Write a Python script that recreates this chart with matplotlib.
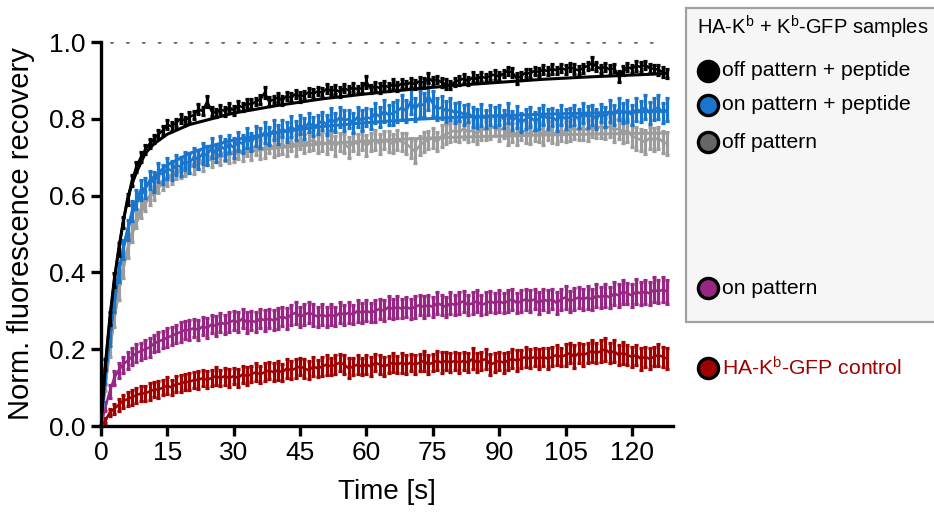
import numpy as np
import matplotlib.pyplot as plt
from matplotlib.lines import Line2D
from matplotlib.patches import Rectangle

plt.rcParams['font.family'] = ['Liberation Sans', 'DejaVu Sans']
plt.rcParams['mathtext.default'] = 'regular'

# time points (one frame per second)
time_s = np.arange(0, 129)

# mean recovery, in % of pre-bleach
off_pep = [0, 16, 28, 38, 46, 53, 59, 64, 67.5, 70,
           72, 73.5, 74.8, 76, 77, 78.5, 78, 79, 80, 79.5,
           80.5, 81, 82.5, 82, 84.5, 82, 81.5, 82.5, 82, 83,
           82.2, 83.5, 83, 84, 83.8, 84.5, 85, 86.8, 84.5, 85,
           85.5, 84.8, 86, 85.5, 86.5, 85.8, 86.2, 87, 86.5, 87.2,
           86.8, 87.8, 87.2, 87.6, 87, 88, 87.4, 88.2, 87.6, 88,
           89.6, 87.8, 88.5, 88, 88.8, 88.2, 89, 88.4, 89.2, 88.8,
           89.5, 89, 89.8, 89.4, 90.6, 89.8, 90.2, 89.5, 89, 88.8,
           89.6, 90, 90.5, 89.8, 90.8, 90.3, 91, 90.6, 91.2, 91.5,
           91, 91.8, 92.5, 92, 90.5, 91.2, 92, 91.8, 92.5, 92.2,
           92.8, 92.4, 93, 92.6, 93.2, 92.8, 93.5, 93, 92.6, 93.2,
           93.8, 94.5, 93.6, 93, 93.5, 92.8, 93.2, 91, 92.5, 93.5,
           93, 93.8, 93.5, 94, 93.2, 93, 92.8, 92.2, 91.8]
on_pep = [0, 13, 23, 32, 40, 46, 51, 56, 59, 61.5,
          62, 64, 63.5, 66, 65.5, 67, 66.5, 68, 67.5, 69,
          68.5, 70, 69.5, 71, 70.5, 72.5, 71, 73, 72, 73.5,
          72.5, 74, 73.5, 75, 74, 75.5, 75, 76.5, 75.5, 77,
          76, 77.5, 76.5, 78, 77, 78.5, 77.5, 79, 78, 78.5,
          79.5, 78.5, 80, 79, 80.5, 79.5, 80, 79, 80.5, 79.5,
          80.5, 80, 81.5, 80.5, 82, 81, 81.5, 82, 83, 82,
          84.5, 82.5, 84, 83.5, 86, 84, 82.5, 83, 82, 82.5,
          81.5, 82, 81, 81.5, 80.5, 80, 81, 80, 81, 80.5,
          81, 80, 81.5, 79.5, 80.5, 79, 80, 80.5, 79.5, 80,
          81, 80, 80.5, 79.5, 81, 80, 80.5, 81, 80, 81.5,
          80.5, 81, 80, 81.5, 80.5, 82, 81, 82.5, 81.5, 82,
          81, 82.5, 82, 83, 81.5, 82.5, 83, 81.5, 82.5]
off_pat = [0, 11, 20, 28, 35, 41, 46, 50.5, 54, 56.5,
           58.5, 60, 61.5, 63, 64, 65, 65.5, 66.5, 67, 67.5,
           68.5, 68, 69.5, 69, 70.5, 70, 71, 70.5, 71.5, 71,
           71.5, 72, 71.5, 72.5, 72, 73, 72, 72.5, 73.5, 72.5,
           73, 73.5, 72.5, 74, 73, 74.5, 73.5, 74, 74.5, 73.5,
           74, 73.5, 74.5, 73, 74, 73.5, 72.5, 74, 73.5, 74.5,
           73, 74, 74.5, 73.5, 74.5, 74, 73.5, 74.5, 74, 73.5,
           72.5, 71.5, 73, 74, 74.5, 75, 74, 75.5, 76, 76.5,
           77, 76.5, 77.5, 76.5, 77, 76, 77.5, 77, 77.5, 78,
           77, 77.5, 76, 76.5, 76, 77, 76.5, 76, 77, 76.5,
           76, 77, 76.5, 76, 77, 76.5, 77, 77.5, 77, 77.5,
           77, 78, 77.5, 78, 77.5, 78, 77, 77.5, 76.5, 77,
           75.5, 75, 74.5, 74, 75, 74.5, 75, 74, 73.5]
on_pat = [0, 5, 9, 12.5, 14.5, 16, 17, 18, 19, 19.5,
          20, 20.5, 21.5, 22, 22.5, 23, 23.5, 24, 24.5, 25,
          25, 25.5, 25, 26, 25.5, 26.5, 26, 27, 26.5, 27,
          27.5, 27, 28, 27, 27.5, 27, 28, 27.5, 28, 27.5,
          28, 28.5, 28, 29, 29.5, 28.5, 29, 29.5, 29, 28.5,
          29, 28.5, 29, 28.5, 29.5, 29, 29.5, 29, 30, 29.5,
          30, 29.5, 30, 30.5, 30, 31, 30.5, 31, 30.5, 31,
          30.5, 31, 31.5, 31, 31.5, 31, 32, 31.5, 31, 32,
          31.5, 32, 32.5, 31.5, 32, 32.5, 31.5, 32, 32.5, 32,
          32.5, 32, 32.5, 33, 32, 32.5, 33, 32.5, 33, 32,
          33, 32.5, 33, 32, 33, 33.5, 32.5, 33, 33.5, 33,
          33.5, 33, 34, 33.5, 34, 33.5, 34.5, 34, 35, 34.5,
          34, 35, 34.5, 35, 34.5, 35.5, 35, 35.5, 35]
control = [0, 1.5, 3.5, 4.5, 5.5, 6.5, 7, 7.5, 8, 8.5,
           8.5, 9, 9.5, 9.5, 10, 10.5, 10, 11, 11, 11.5,
           11.5, 12, 12, 12.5, 12, 12.5, 13, 12.5, 13, 12.5,
           13, 12.5, 13.5, 13, 13.5, 14, 13.5, 14, 14.5, 14,
           14.5, 14, 15, 14.5, 15, 15.5, 15, 14.5, 15.5, 15,
           15.5, 16, 15.5, 16, 16.5, 16, 15, 15.5, 16, 15.5,
           16, 15.5, 16.5, 16, 15.5, 16, 16.5, 16, 16.5, 16,
           16.5, 16, 16.5, 17, 16, 16.5, 17, 16.5, 17, 16.5,
           17, 16.5, 17, 16.5, 17.5, 16.5, 17, 17.5, 16, 16.5,
           17, 16.5, 17, 17.5, 17, 17.5, 18, 17.5, 18, 17.5,
           18, 17.5, 18, 18.5, 18, 18.5, 19, 18, 19, 18.5,
           19, 19.5, 19, 19.5, 20, 19, 19.5, 18.5, 19, 18.5,
           18, 18.5, 17.5, 18, 17.5, 18, 18.5, 18, 17.5]

# SEM, in %
off_pep_err = [0, 1.5, 1.8, 1.8, 1.6, 1.5, 1.4, 1.4, 1.3, 1.3,
               1.2, 1.2, 1.1, 1.2, 1.1, 1.2, 1.1, 1.0, 1.2, 1.1,
               1.2, 1.0, 1.3, 1.1, 1.5, 1.2, 1.0, 1.1, 1.2, 1.0,
               1.1, 1.2, 1.0, 1.1, 1.3, 1.0, 1.2, 1.5, 1.1, 1.0,
               1.2, 1.1, 1.0, 1.2, 1.1, 1.3, 1.0, 1.1, 1.2, 1.0,
               1.1, 1.2, 1.0, 1.1, 1.3, 1.0, 1.2, 1.1, 1.0, 1.2,
               1.6, 1.1, 1.0, 1.2, 1.1, 1.0, 1.3, 1.1, 1.2, 1.0,
               1.1, 1.2, 1.0, 1.3, 1.4, 1.1, 1.0, 1.2, 1.3, 1.1,
               1.0, 1.2, 1.1, 1.0, 1.3, 1.1, 1.2, 1.0, 1.1, 1.3,
               1.2, 1.0, 1.1, 1.2, 1.4, 1.1, 1.0, 1.2, 1.1, 1.0,
               1.2, 1.1, 1.3, 1.0, 1.1, 1.2, 1.0, 1.3, 1.1, 1.2,
               1.0, 1.5, 1.2, 1.1, 1.0, 1.3, 1.1, 1.5, 1.2, 1.0,
               1.1, 1.3, 1.2, 1.0, 1.2, 1.1, 1.3, 1.2, 1.1]
on_pep_err = [0, 2.0, 2.2, 2.4, 2.5, 2.5, 2.6, 2.5, 2.4, 2.6,
              2.5, 2.3, 2.6, 2.4, 2.5, 2.7, 2.4, 2.6, 2.5, 2.3,
              2.6, 2.4, 2.5, 2.8, 2.4, 2.6, 2.3, 2.5, 2.7, 2.4,
              2.6, 2.5, 2.3, 2.7, 2.4, 2.6, 2.5, 2.8, 2.4, 2.6,
              2.5, 2.3, 2.6, 2.8, 2.4, 2.5, 2.7, 2.4, 2.6, 2.5,
              2.3, 2.6, 2.8, 2.4, 2.5, 2.7, 2.4, 2.6, 2.5, 2.8,
              2.4, 2.6, 2.5, 2.7, 2.9, 2.6, 3.0, 2.8, 3.2, 2.9,
              3.3, 3.0, 3.4, 3.1, 3.6, 3.2, 2.9, 3.0, 2.7, 2.8,
              2.6, 2.5, 2.7, 2.4, 2.6, 2.5, 2.8, 2.4, 2.6, 2.5,
              2.7, 2.4, 2.6, 2.5, 2.8, 2.4, 2.6, 2.5, 2.3, 2.7,
              2.5, 2.6, 2.4, 2.8, 2.5, 2.6, 2.4, 2.7, 2.5, 2.6,
              2.8, 2.5, 2.6, 2.4, 2.7, 2.9, 2.5, 2.8, 2.6, 2.9,
              2.6, 3.0, 2.7, 3.1, 2.8, 2.9, 3.1, 2.7, 3.0]
off_pat_err = [0, 1.8, 2.0, 2.2, 2.3, 2.4, 2.3, 2.5, 2.4, 2.3,
               2.5, 2.4, 2.6, 2.3, 2.5, 2.4, 2.6, 2.3, 2.5, 2.4,
               2.6, 2.3, 2.5, 2.7, 2.4, 2.5, 2.3, 2.6, 2.4, 2.5,
               2.7, 2.4, 2.5, 2.3, 2.6, 2.4, 2.5, 2.7, 2.3, 2.5,
               2.4, 2.6, 2.3, 2.5, 2.7, 2.4, 2.5, 2.3, 2.6, 2.4,
               2.5, 2.7, 2.4, 2.6, 2.3, 2.5, 2.8, 2.4, 2.6, 2.5,
               2.7, 2.4, 2.5, 2.6, 2.4, 2.7, 2.5, 2.6, 2.4, 2.7,
               2.6, 2.9, 2.5, 2.6, 2.4, 2.7, 2.5, 2.8, 2.6, 2.5,
               2.7, 2.6, 2.8, 2.5, 2.7, 2.6, 2.9, 2.5, 2.7, 2.6,
               2.8, 2.6, 2.7, 2.5, 2.8, 2.6, 2.7, 2.5, 2.8, 2.6,
               2.7, 2.5, 2.8, 2.6, 2.9, 2.6, 2.7, 2.8, 2.6, 2.9,
               2.7, 2.8, 2.6, 2.9, 2.7, 2.8, 3.0, 2.7, 2.9, 3.0,
               2.8, 3.0, 2.9, 3.1, 2.8, 3.0, 2.9, 2.8, 3.0]
on_pat_err = [0, 1.2, 1.6, 1.8, 2.0, 2.1, 2.2, 2.2, 2.3, 2.2,
              2.3, 2.4, 2.2, 2.4, 2.3, 2.5, 2.3, 2.4, 2.5, 2.3,
              2.5, 2.4, 2.6, 2.4, 2.5, 2.3, 2.6, 2.4, 2.5, 2.6,
              2.4, 2.6, 2.5, 2.7, 2.4, 2.6, 2.5, 2.7, 2.5, 2.6,
              2.8, 2.5, 2.7, 2.6, 2.9, 2.6, 2.8, 2.7, 2.9, 2.6,
              2.8, 2.6, 2.7, 2.5, 2.8, 2.6, 2.7, 2.5, 2.8, 2.6,
              2.7, 2.5, 2.8, 2.6, 2.7, 2.9, 2.6, 2.8, 2.5, 2.7,
              2.6, 2.8, 2.6, 2.9, 2.7, 2.6, 2.9, 2.7, 2.6, 2.8,
              2.6, 2.9, 2.7, 2.6, 2.8, 2.9, 2.6, 2.8, 2.7, 2.6,
              2.8, 2.6, 2.9, 2.7, 2.6, 2.8, 2.7, 2.9, 2.6, 2.8,
              2.7, 2.9, 2.6, 2.8, 2.7, 3.0, 2.7, 2.9, 2.8, 2.7,
              3.0, 2.8, 2.9, 2.7, 3.1, 2.8, 3.0, 2.9, 3.1, 2.8,
              3.0, 3.2, 2.9, 3.1, 3.0, 3.3, 3.0, 3.2, 3.1]
control_err = [0, 0.6, 1.0, 1.3, 1.5, 1.7, 1.8, 1.9, 2.0, 1.9,
               2.0, 2.1, 1.9, 2.1, 2.0, 2.2, 2.0, 2.1, 2.2, 2.0,
               2.2, 2.1, 2.3, 2.0, 2.2, 2.1, 2.3, 2.1, 2.2, 2.4,
               2.1, 2.3, 2.2, 2.4, 2.1, 2.3, 2.2, 2.4, 2.2, 2.3,
               2.5, 2.2, 2.4, 2.3, 2.5, 2.2, 2.4, 2.3, 2.5, 2.2,
               2.4, 2.6, 2.3, 2.5, 2.2, 2.4, 2.6, 2.3, 2.5, 2.2,
               2.4, 2.6, 2.3, 2.5, 2.4, 2.2, 2.5, 2.3, 2.6, 2.4,
               2.2, 2.5, 2.3, 2.6, 2.4, 2.2, 2.5, 2.7, 2.3, 2.5,
               2.4, 2.6, 2.3, 2.5, 2.7, 2.4, 2.3, 2.6, 2.8, 2.5,
               2.4, 2.6, 2.3, 2.5, 2.7, 2.4, 2.6, 2.5, 2.3, 2.6,
               2.4, 2.7, 2.5, 2.6, 2.4, 2.8, 2.5, 3.0, 2.6, 2.8,
               2.5, 2.9, 2.6, 2.8, 3.0, 2.7, 2.9, 2.6, 2.8, 2.5,
               2.7, 2.5, 2.8, 2.6, 2.7, 2.5, 2.8, 2.6, 2.7]

# fitted recovery curves
fit_t = [0, 1, 2, 3, 4, 5, 6, 7, 8, 10, 12, 15, 20, 25, 30, 40, 50, 60, 70, 80, 90, 100, 110, 120, 128]
fit_off_pep = [0, 16, 28, 38, 46, 53, 59, 63, 66, 71, 73.5, 76, 78.5, 80, 81.5, 83.5, 85.2, 86.5, 87.7, 88.7, 89.5, 90.3, 90.9, 91.4, 91.8]
fit_on_pep = [0, 13, 23, 32, 40, 46, 51, 55, 58, 62, 65, 68, 71, 73, 74.5, 76.5, 78, 79, 79.8, 80.4, 80.8, 81.2, 81.5, 81.8, 82]
fit_off_pat = [0, 11, 20, 28, 35, 41, 46, 50, 53, 58, 61, 64.5, 67.5, 69.5, 71, 72.5, 73.5, 74.2, 74.8, 75.2, 75.5, 75.8, 76, 76.2, 76.3]

colors = {'black': '#000000', 'blue': '#1a75cc', 'gray': '#9c9c9c',
          'magenta': '#982683', 'red': '#a00000'}

fig = plt.figure(figsize=(9.34, 5.15), dpi=100)
ax = fig.add_axes([0.1081, 0.1728, 0.6125, 0.7456])

# dotted line at full recovery
ax.plot([2.5, 128], [1.0, 1.0], color='#6e6e6e', lw=3.0,
        linestyle=(0, (0.01, 3.8)), dash_capstyle='round', zorder=1)

series = [(control, control_err, colors['red']),
          (on_pat, on_pat_err, colors['magenta']),
          (off_pat, off_pat_err, colors['gray']),
          (on_pep, on_pep_err, colors['blue']),
          (off_pep, off_pep_err, colors['black'])]
for i, (m, e, c) in enumerate(series):
    ax.errorbar(time_s, np.array(m) / 100, yerr=np.array(e) / 100, color=c,
                lw=1.8, elinewidth=2.3, capsize=1.3, capthick=2.3,
                zorder=2 + i, clip_on=False)

for f, c, z in [(fit_off_pat, colors['gray'], 4.5),
                (fit_on_pep, colors['blue'], 5.5),
                (fit_off_pep, colors['black'], 6.5)]:
    ax.plot(fit_t, np.array(f) / 100, color=c, lw=2.2, zorder=z)

ax.set_xlim(0, 129.3)
ax.set_ylim(0, 1.0)
ax.set_xticks(range(0, 121, 15))
ax.set_yticks([0, 0.2, 0.4, 0.6, 0.8, 1.0])
ax.set_yticklabels(['0.0', '0.2', '0.4', '0.6', '0.8', '1.0'])
ax.spines['top'].set_visible(False)
ax.spines['right'].set_visible(False)
ax.spines['left'].set_linewidth(2.4)
ax.spines['bottom'].set_linewidth(2.4)
ax.tick_params(direction='out', length=7, width=2.4, labelsize=19, pad=4)
ax.set_xlabel('Time [s]', fontsize=20, labelpad=10)
ax.set_ylabel('Norm. fluorescence recovery', fontsize=21, labelpad=10)

# legend box drawn by hand, it runs off the right edge
W, H = 934, 515
fig.add_artist(Rectangle((686 / W, 1 - 322 / H), 260 / W, 314 / H,
                         transform=fig.transFigure, facecolor='#f6f6f6',
                         edgecolor='#a0a0a0', lw=1.6, clip_on=False))
fig.text(697 / W, 1 - 27 / H, 'HA-K$^{b}$ + K$^{b}$-GFP samples',
         fontsize=14.5, va='center', ha='left')

entries = [('off pattern + peptide', colors['black'], 71, 'black'),
           ('on pattern + peptide', colors['blue'], 105, 'black'),
           ('off pattern', '#666666', 142, 'black'),
           ('on pattern', colors['magenta'], 288, 'black'),
           ('HA-K$^{b}$-GFP control', colors['red'], 368, colors['red'])]
for label, c, ypx, tc in entries:
    fig.add_artist(Line2D([708 / W], [1 - ypx / H], marker='o', markersize=14.5,
                          markerfacecolor=c, markeredgecolor='black',
                          markeredgewidth=2.4, transform=fig.transFigure))
    fig.text(722 / W, 1 - ypx / H, label, fontsize=15.2, color=tc,
             va='center', ha='left')

fig.savefig('out.png', dpi=100)
